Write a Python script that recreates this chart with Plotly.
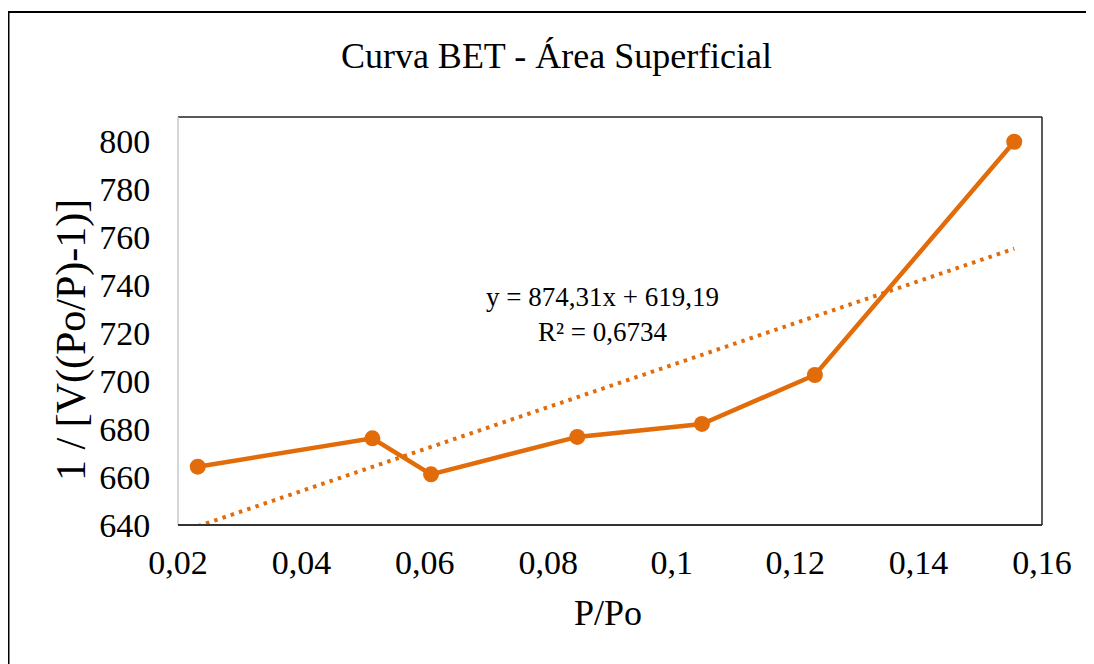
import plotly.graph_objects as go

# Data
p_po = [0.0232, 0.0515, 0.0610, 0.0847, 0.1049, 0.1232, 0.1555]
inv_v = [664.3, 676.1, 661.1, 676.7, 682.1, 702.5, 799.7]

# Linear trendline reported on the chart
slope = 874.31
intercept = 619.19
r2 = 0.6734

x_ticks = [0.02, 0.04, 0.06, 0.08, 0.10, 0.12, 0.14, 0.16]
x_tick_labels = ["0,02", "0,04", "0,06", "0,08", "0,1", "0,12", "0,14", "0,16"]
y_ticks = [640, 660, 680, 700, 720, 740, 760, 780, 800]

ORANGE = "#E36C0A"
FONT = "Liberation Serif"

trend_x = [p_po[0], p_po[-1]]
trend_y = [slope * v + intercept for v in trend_x]

fig = go.Figure()
fig.add_trace(go.Scatter(
    x=trend_x, y=trend_y, mode="lines",
    line=dict(color=ORANGE, width=4, dash="3.5px,5.2px"),
    showlegend=False, hoverinfo="skip",
))
fig.add_trace(go.Scatter(
    x=p_po, y=inv_v, mode="lines+markers",
    line=dict(color=ORANGE, width=4.5),
    marker=dict(color=ORANGE, size=16),
    showlegend=False,
))

OFF = 8  # page body margin
W, H = 1094 - OFF, 664 - OFF
# plot area in page pixels: left 178, right 1042, top 117, bottom 525
L = 178 - OFF
T = 117 - OFF
R = W - (1042 - OFF)
B = H - (525 - OFF)
pw, ph = W - L - R, H - T - B

def px(xp):
    return (xp - OFF - L) / pw

def py(yp):
    return (H - B - (yp - OFF)) / ph

shapes = [
    # outer chart border
    dict(type="rect", xref="paper", yref="paper",
         x0=px(8.5), x1=px(1110), y0=py(680), y1=py(12),
         line=dict(color="black", width=2), layer="below"),
    # plot area border
    dict(type="line", xref="paper", yref="paper", x0=0, x1=1, y0=1, y1=1,
         line=dict(color="#222222", width=1.5)),
    dict(type="line", xref="paper", yref="paper", x0=1, x1=1, y0=0, y1=1,
         line=dict(color="#222222", width=1.5)),
    dict(type="line", xref="paper", yref="paper", x0=0, x1=0, y0=0, y1=1,
         line=dict(color="#C8C8C8", width=1.5)),
    dict(type="line", xref="paper", yref="paper", x0=0, x1=1, y0=0, y1=0,
         line=dict(color="#333333", width=2)),
]

annotations = [
    dict(text=f"y = {str(slope).replace('.', ',')}x + {str(intercept).replace('.', ',')}<br>R² = {str(r2).replace('.', ',')}",
         xref="paper", yref="paper", x=px(602), y=py(314),
         showarrow=False, font=dict(family=FONT, size=27, color="black"),
         align="center", xanchor="center", yanchor="middle"),
    dict(text="P/Po", xref="paper", yref="paper", x=px(608), y=py(613),
         showarrow=False, font=dict(family=FONT, size=36, color="black"),
         xanchor="center", yanchor="middle"),
    dict(text="1 / [V((Po/P)-1)]", xref="paper", yref="paper", x=px(71), y=py(340),
         showarrow=False, textangle=-90, font=dict(family=FONT, size=42, color="black"),
         xanchor="center", yanchor="middle"),
]

fig.update_layout(
    width=W, height=H,
    margin=dict(l=L, r=R, t=T, b=B),
    paper_bgcolor="white", plot_bgcolor="white",
    title=dict(text="Curva BET - Área Superficial", x=(556.5 - OFF) / W, y=1 - (55 - OFF) / H,
               xanchor="center", yanchor="middle", xref="container", yref="container",
               font=dict(family=FONT, size=36, color="black")),
    font=dict(family=FONT, color="black"),
    shapes=shapes,
    annotations=annotations,
    xaxis=dict(range=[0.02, 0.16], tickvals=x_ticks, ticktext=x_tick_labels,
               showgrid=False, zeroline=False, showline=False,
               ticks="outside", ticklen=7, tickcolor="rgba(0,0,0,0)",
               tickfont=dict(family=FONT, size=34, color="black")),
    yaxis=dict(range=[640, 810], tickvals=y_ticks,
               showgrid=False, zeroline=False, showline=False,
               ticks="outside", ticklen=20, tickcolor="rgba(0,0,0,0)",
               tickfont=dict(family=FONT, size=34, color="black")),
)

fig.write_html("out.html")
